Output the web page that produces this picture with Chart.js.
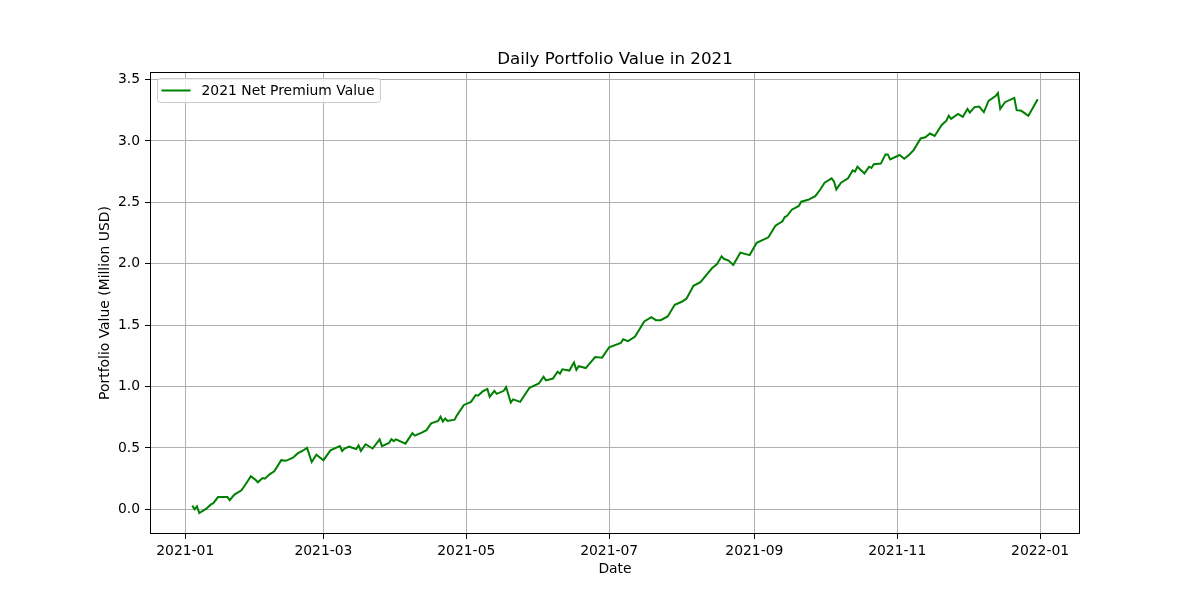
<!DOCTYPE html>
<html>
<head>
<meta charset="utf-8">
<title>Daily Portfolio Value in 2021</title>
<script src="https://cdn.jsdelivr.net/npm/chart.js@4.4.0/dist/chart.umd.min.js"></script>
<style>
  html, body { margin: 0; padding: 0; background: #fff; }
  #wrap { width: 1200px; height: 600px; }
</style>
</head>
<body>
<div id="wrap"><canvas id="valueChart" width="1200" height="600"></canvas></div>
<script>
// Daily portfolio value
const dates = [
    '2021-01-04', '2021-01-05', '2021-01-06', '2021-01-07', '2021-01-10', '2021-01-12', '2021-01-13', '2021-01-15',
    '2021-01-19', '2021-01-20', '2021-01-22', '2021-01-25', '2021-01-27', '2021-01-29', '2021-01-31', '2021-02-01',
    '2021-02-03', '2021-02-04', '2021-02-06', '2021-02-08', '2021-02-11', '2021-02-13', '2021-02-16', '2021-02-18',
    '2021-02-20', '2021-02-22', '2021-02-24', '2021-02-26', '2021-03-01', '2021-03-04', '2021-03-08', '2021-03-09',
    '2021-03-10', '2021-03-12', '2021-03-15', '2021-03-16', '2021-03-17', '2021-03-19', '2021-03-22', '2021-03-25',
    '2021-03-26', '2021-03-29', '2021-03-30', '2021-03-31', '2021-04-01', '2021-04-05', '2021-04-08', '2021-04-09',
    '2021-04-12', '2021-04-14', '2021-04-16', '2021-04-19', '2021-04-20', '2021-04-21', '2021-04-22', '2021-04-23',
    '2021-04-26', '2021-04-27', '2021-04-30', '2021-05-03', '2021-05-05', '2021-05-06', '2021-05-08', '2021-05-10',
    '2021-05-11', '2021-05-13', '2021-05-14', '2021-05-17', '2021-05-18', '2021-05-20', '2021-05-21', '2021-05-24',
    '2021-05-28', '2021-06-01', '2021-06-03', '2021-06-04', '2021-06-07', '2021-06-09', '2021-06-10', '2021-06-11',
    '2021-06-14', '2021-06-16', '2021-06-17', '2021-06-18', '2021-06-21', '2021-06-25', '2021-06-28', '2021-07-01',
    '2021-07-06', '2021-07-07', '2021-07-09', '2021-07-12', '2021-07-16', '2021-07-19', '2021-07-21', '2021-07-23',
    '2021-07-26', '2021-07-29', '2021-08-01', '2021-08-03', '2021-08-06', '2021-08-09', '2021-08-12', '2021-08-14',
    '2021-08-16', '2021-08-18', '2021-08-19', '2021-08-21', '2021-08-23', '2021-08-26', '2021-08-30', '2021-09-02',
    '2021-09-07', '2021-09-10', '2021-09-13', '2021-09-14', '2021-09-15', '2021-09-17', '2021-09-20', '2021-09-21',
    '2021-09-24', '2021-09-27', '2021-09-29', '2021-10-01', '2021-10-04', '2021-10-05', '2021-10-06', '2021-10-08',
    '2021-10-11', '2021-10-13', '2021-10-14', '2021-10-15', '2021-10-18', '2021-10-20', '2021-10-21', '2021-10-22',
    '2021-10-25', '2021-10-27', '2021-10-28', '2021-10-29', '2021-11-02', '2021-11-04', '2021-11-06', '2021-11-08',
    '2021-11-11', '2021-11-13', '2021-11-15', '2021-11-17', '2021-11-20', '2021-11-22', '2021-11-23', '2021-11-24',
    '2021-11-27', '2021-11-29', '2021-12-01', '2021-12-02', '2021-12-04', '2021-12-06', '2021-12-08', '2021-12-10',
    '2021-12-13', '2021-12-14', '2021-12-15', '2021-12-17', '2021-12-21', '2021-12-22', '2021-12-24', '2021-12-27',
    '2021-12-31'
];

const values = [
    0.03, 0.00, 0.025, -0.03, 0.005, 0.04, 0.05, 0.10,
    0.10, 0.075, 0.12, 0.155, 0.21, 0.27, 0.24, 0.22,
    0.255, 0.25, 0.285, 0.31, 0.40, 0.395, 0.42, 0.455,
    0.475, 0.50, 0.385, 0.445, 0.40, 0.48, 0.515, 0.475,
    0.495, 0.51, 0.49, 0.52, 0.475, 0.53, 0.495, 0.57,
    0.515, 0.54, 0.57, 0.555, 0.57, 0.535, 0.62, 0.60,
    0.625, 0.645, 0.70, 0.72, 0.755, 0.715, 0.74, 0.72,
    0.73, 0.765, 0.85, 0.875, 0.93, 0.925, 0.96, 0.98,
    0.915, 0.965, 0.94, 0.965, 0.995, 0.87, 0.895, 0.875,
    0.99, 1.025, 1.08, 1.05, 1.065, 1.12, 1.105, 1.14,
    1.13, 1.195, 1.135, 1.165, 1.15, 1.24, 1.235, 1.32,
    1.355, 1.385, 1.37, 1.405, 1.53, 1.565, 1.54, 1.54,
    1.57, 1.665, 1.69, 1.715, 1.82, 1.85, 1.92, 1.965,
    1.995, 2.06, 2.04, 2.025, 1.99, 2.09, 2.07, 2.17,
    2.215, 2.31, 2.345, 2.38, 2.39, 2.44, 2.47, 2.505,
    2.52, 2.55, 2.60, 2.66, 2.695, 2.67, 2.605, 2.66,
    2.695, 2.76, 2.75, 2.79, 2.735, 2.79, 2.78, 2.81,
    2.815, 2.89, 2.89, 2.85, 2.885, 2.855, 2.885, 2.925,
    3.02, 3.03, 3.06, 3.04, 3.13, 3.165, 3.205, 3.18,
    3.22, 3.195, 3.26, 3.23, 3.275, 3.28, 3.235, 3.325,
    3.365, 3.39, 3.26, 3.315, 3.35, 3.25, 3.245, 3.205,
    3.34
];

const xTickLabels = ['2021-01', '2021-03', '2021-05', '2021-07', '2021-09', '2021-11', '2022-01'];
const yTickValues = [0.0, 0.5, 1.0, 1.5, 2.0, 2.5, 3.0, 3.5];

const seriesLabel = '2021 Net Premium Value';
const chartTitle = 'Daily Portfolio Value in 2021';
const xTitle = 'Date';
const yTitle = 'Portfolio Value (Million USD)';

// days since 2021-01-01
const DAY = 86400000;
const origin = Date.UTC(2021, 0, 1);
function dayOf(s) {
    const p = s.split('-').map(Number);
    return (Date.UTC(p[0], p[1] - 1, p[2] || 1) - origin) / DAY;
}

const points = dates.map((d, i) => ({ x: dayOf(d), y: values[i] }));
const xTickDays = xTickLabels.map(dayOf);

// matplotlib-like 5% margins
const xs = points.map(p => p.x), ys = points.map(p => p.y);
const xMin = Math.min(...xs), xMax = Math.max(...xs);
const yMin = Math.min(...ys), yMax = Math.max(...ys);
const xPad = (xMax - xMin) * 0.05, yPad = (yMax - yMin) * 0.05;

const FONT = 'DejaVu Sans';

// title, axis titles, frame and legend
const decorations = {
    id: 'decorations',
    afterDraw(chart) {
        const ctx = chart.ctx;
        const a = chart.chartArea;
        ctx.save();

        // frame
        ctx.strokeStyle = '#000';
        ctx.lineWidth = 1;
        ctx.strokeRect(Math.round(a.left) + 0.5, Math.round(a.top) + 0.5,
            Math.round(a.right - a.left) - 1, Math.round(a.bottom - a.top) - 1);

        ctx.fillStyle = '#000';
        ctx.textAlign = 'center';

        ctx.font = '16.7px "' + FONT + '"';
        ctx.textBaseline = 'alphabetic';
        ctx.fillText(chartTitle, (a.left + a.right) / 2, a.top - 8);

        ctx.font = '13.9px "' + FONT + '"';
        ctx.textBaseline = 'middle';
        ctx.fillText(xTitle, (a.left + a.right) / 2, 569);

        ctx.save();
        ctx.translate(105, (a.top + a.bottom) / 2);
        ctx.rotate(-Math.PI / 2);
        ctx.fillText(yTitle, 0, 0);
        ctx.restore();

        // legend
        const lx = a.left + 7.5, ly = a.top + 6.5;
        ctx.font = '13.9px "' + FONT + '"';
        const tw = ctx.measureText(seriesLabel).width;
        const lw = tw + 50, lh = 24;
        ctx.beginPath();
        ctx.roundRect(lx, ly, lw, lh, 3);
        ctx.fillStyle = 'rgba(255,255,255,0.8)';
        ctx.fill();
        ctx.strokeStyle = '#cccccc';
        ctx.lineWidth = 1;
        ctx.stroke();

        ctx.strokeStyle = '#008000';
        ctx.lineWidth = 2;
        ctx.beginPath();
        ctx.moveTo(lx + 4, ly + 12);
        ctx.lineTo(lx + 33, ly + 12);
        ctx.stroke();

        ctx.fillStyle = '#000';
        ctx.textAlign = 'left';
        ctx.fillText(seriesLabel, lx + 44, ly + 12.5);

        ctx.restore();
    }
};

const config = {
    type: 'line',
    data: {
        datasets: [{
            label: seriesLabel,
            data: points,
            borderColor: '#008000',
            backgroundColor: '#008000',
            borderWidth: 2,
            pointRadius: 0,
            tension: 0,
            fill: false
        }]
    },
    options: {
        responsive: false,
        animation: false,
        events: [],
        layout: { padding: { top: 72, right: 120, left: 0, bottom: 0 } },
        plugins: {
            legend: { display: false },
            title: { display: false },
            tooltip: { enabled: false }
        },
        scales: {
            x: {
                type: 'linear',
                min: xMin - xPad,
                max: xMax + xPad,
                afterBuildTicks: (scale) => {
                    scale.ticks = xTickDays.map(v => ({ value: v }));
                },
                afterFit: (scale) => { scale.height = 66; },
                grid: { color: '#b0b0b0', lineWidth: 1, tickColor: '#000', tickLength: 5 },
                border: { display: false },
                ticks: {
                    color: '#000',
                    padding: 4,
                    maxRotation: 0,
                    autoSkip: false,
                    font: { family: FONT, size: 13.9 },
                    callback: (v) => xTickLabels[xTickDays.indexOf(v)]
                }
            },
            y: {
                type: 'linear',
                min: yMin - yPad,
                max: yMax + yPad,
                afterBuildTicks: (scale) => {
                    scale.ticks = yTickValues.map(v => ({ value: v }));
                },
                afterFit: (scale) => { scale.width = 150; },
                grid: { color: '#b0b0b0', lineWidth: 1, tickColor: '#000', tickLength: 5 },
                border: { display: false },
                ticks: {
                    color: '#000',
                    padding: 5,
                    font: { family: FONT, size: 13.9 },
                    callback: (v) => Number(v).toFixed(1)
                }
            }
        }
    },
    plugins: [decorations]
};

const valueChart = new Chart(document.getElementById('valueChart'), config);
</script>
</body>
</html>
